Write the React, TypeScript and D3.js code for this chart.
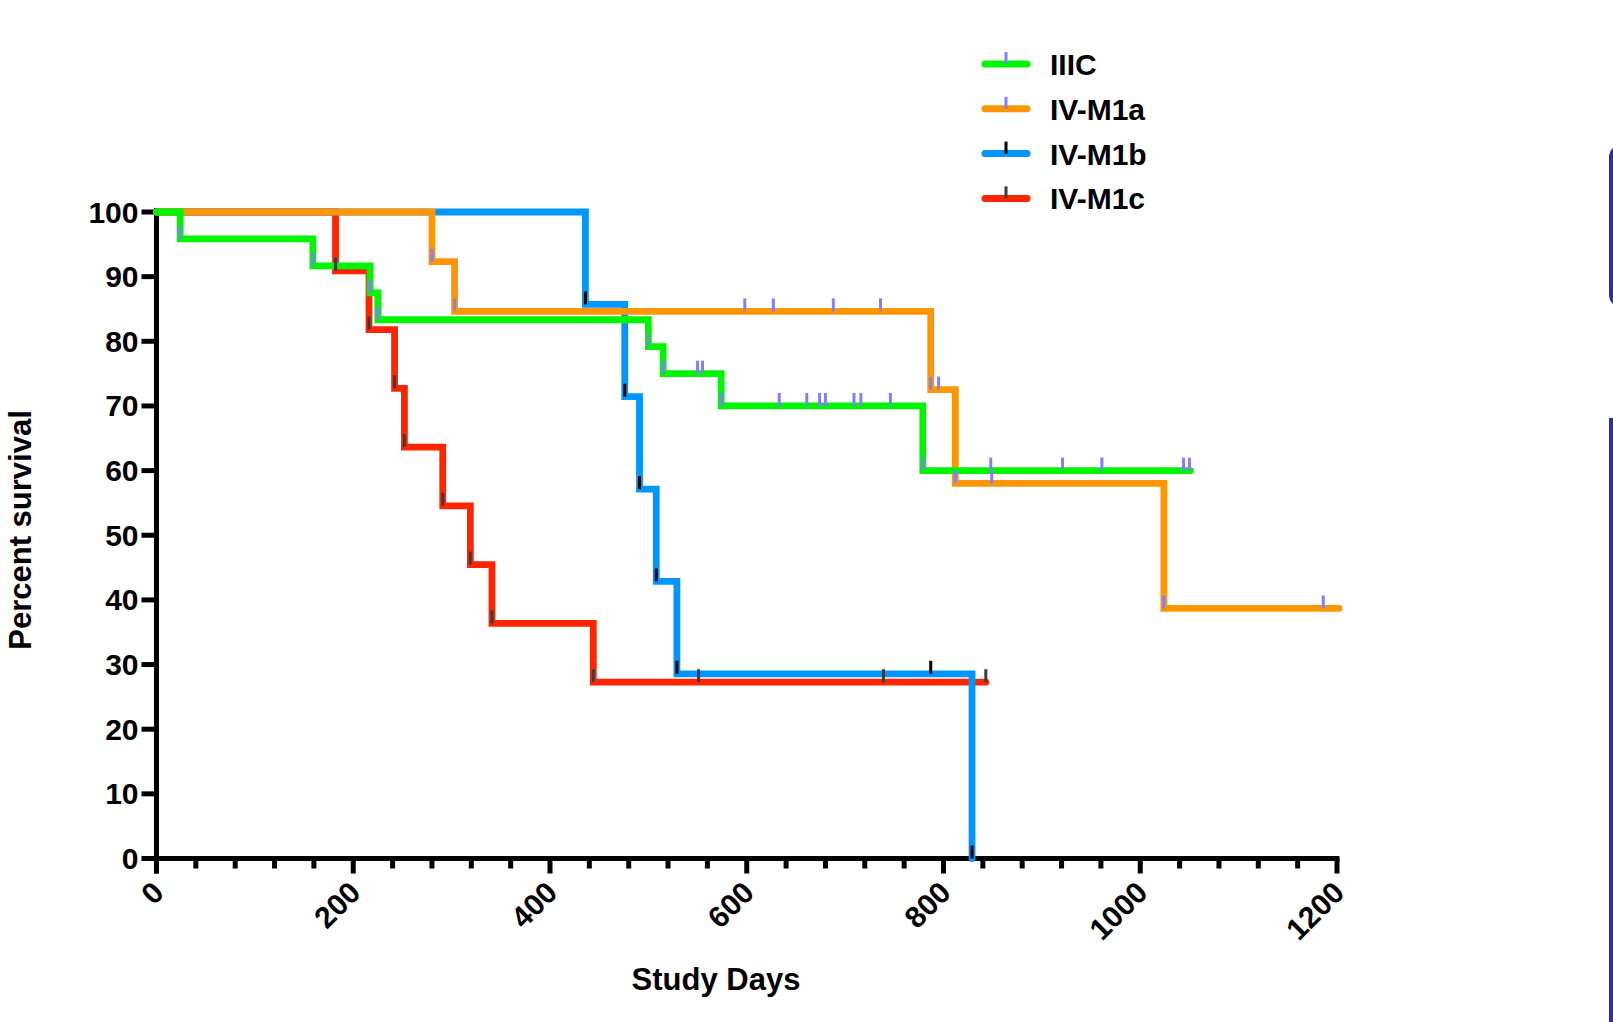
import { useEffect, useRef } from "react";
import * as d3 from "d3";

// Kaplan-Meier steps: day of each drop and the survival after it
const iiicDays = [0, 24, 159, 217, 225, 500, 515, 574, 779];
const iiicSurvival = [100, 95.83, 91.67, 87.5, 83.33, 79.17, 75.0, 70.0, 60.0];
const iiicLastDay = 1051;
const iiicCensored = [24, 159, 217, 225, 500, 515, 550, 555, 574, 633, 661, 674, 680, 709, 716, 746, 779, 848, 921, 961, 1044, 1050];

const m1aDays = [0, 280, 303, 787, 812, 1024];
const m1aSurvival = [100, 92.31, 84.62, 72.53, 58.02, 38.68];
const m1aLastDay = 1202;
const m1aCensored = [280, 303, 598, 627, 688, 736, 787, 795, 812, 849, 1024, 1186];

const m1bDays = [0, 436, 476, 491, 508, 529, 829];
const m1bSurvival = [100, 85.71, 71.43, 57.14, 42.86, 28.57, 0];
const m1bLastDay = 829;
const m1bCensored = [436, 476, 491, 508, 529, 787, 829];

const m1cDays = [0, 182, 216, 242, 252, 291, 319, 341, 444];
const m1cSurvival = [100, 90.91, 81.82, 72.73, 63.64, 54.55, 45.45, 36.36, 27.27];
const m1cLastDay = 843;
const m1cCensored = [182, 216, 242, 252, 291, 319, 341, 444, 551, 739, 843];

const groupNames = ["IIIC", "IV-M1a", "IV-M1b", "IV-M1c"];
const lineColors = ["#00f500", "#ff9600", "#0096ff", "#ff2500"];
const censorColors = ["#8080ff", "#8080ff", "#000000", "#3c3c3c"];

const yTickValues = [0, 10, 20, 30, 40, 50, 60, 70, 80, 90, 100];
const xMajorTicks = [0, 200, 400, 600, 800, 1000, 1200];
const xMinorTicks = [40, 80, 120, 160, 240, 280, 320, 360, 440, 480, 520, 560, 640, 680, 720, 760, 840, 880, 920, 960, 1040, 1080, 1120, 1160];

const FONT = "'Liberation Sans', Arial, Helvetica, sans-serif";

const App = () => {
  const chartRef = useRef(null);

  useEffect(() => {
    const svg = d3.select(chartRef.current);
    svg.selectAll("*").remove();

    const x = d3.scaleLinear().domain([0, 1200]).range([156.5, 1337]);
    const y = d3.scaleLinear().domain([0, 100]).range([858.5, 212]);

    const series = [
      { days: iiicDays, surv: iiicSurvival, last: iiicLastDay, cens: iiicCensored },
      { days: m1aDays, surv: m1aSurvival, last: m1aLastDay, cens: m1aCensored },
      { days: m1bDays, surv: m1bSurvival, last: m1bLastDay, cens: m1bCensored },
      { days: m1cDays, surv: m1cSurvival, last: m1cLastDay, cens: m1cCensored },
    ].map((s, i) => ({ ...s, name: groupNames[i], color: lineColors[i], tickColor: censorColors[i] }));

    // bleed of the slide frame on the right edge
    svg.append("rect").attr("x", 1609).attr("y", 145).attr("width", 40).attr("height", 162).attr("rx", 12).attr("fill", "#2e3192");
    svg.append("rect").attr("x", 1609).attr("y", 418).attr("width", 40).attr("height", 640).attr("fill", "#2e3192");

    // axes
    const axes = svg.append("g").attr("stroke", "#000").attr("stroke-width", 5);
    axes.append("line").attr("x1", x(0)).attr("x2", x(0)).attr("y1", y(100) - 4).attr("y2", y(0) + 15);
    axes.append("line").attr("x1", x(0)).attr("x2", x(1200) + 2.5).attr("y1", y(0)).attr("y2", y(0));
    axes.selectAll(".ytick").data(yTickValues).enter().append("line")
      .attr("x1", x(0) - 15).attr("x2", x(0)).attr("y1", (d) => y(d)).attr("y2", (d) => y(d));
    axes.selectAll(".xmajor").data(xMajorTicks).enter().append("line")
      .attr("x1", (d) => x(d)).attr("x2", (d) => x(d)).attr("y1", y(0)).attr("y2", y(0) + 15);
    axes.selectAll(".xminor").data(xMinorTicks).enter().append("line")
      .attr("x1", (d) => x(d)).attr("x2", (d) => x(d)).attr("y1", y(0)).attr("y2", y(0) + 10);

    svg.selectAll(".ylab").data(yTickValues).enter().append("text")
      .attr("x", x(0) - 18).attr("y", (d) => y(d) + 10.5)
      .attr("text-anchor", "end").style("font", `bold 30px ${FONT}`).text((d) => d);

    svg.selectAll(".xlab").data(xMajorTicks).enter().append("text")
      .attr("transform", (d) => `translate(${x(d) + 9},${y(0) + 36}) rotate(-45)`)
      .attr("text-anchor", "end").style("font", `bold 30px ${FONT}`).text((d) => d);

    svg.append("text").attr("x", 716).attr("y", 990).attr("text-anchor", "middle")
      .style("font", `bold 31px ${FONT}`).text("Study Days");
    svg.append("text").attr("transform", "translate(31,530) rotate(-90)").attr("text-anchor", "middle")
      .style("font", `bold 31px ${FONT}`).text("Percent survival");

    // survival curves, last group at the bottom
    const line = d3.line().x((d) => x(d[0])).y((d) => y(d[1])).curve(d3.curveStepAfter);
    [...series].reverse().forEach((s) => {
      const pts = s.days.map((d, i) => [d, s.surv[i]]);
      pts.push([s.last, s.surv[s.surv.length - 1]]);
      svg.append("path").attr("d", line(pts)).attr("fill", "none")
        .attr("stroke", s.color).attr("stroke-width", 6.8)
        .attr("stroke-linecap", "round").attr("stroke-linejoin", "miter");
    });

    // censor ticks
    [...series].reverse().forEach((s) => {
      svg.selectAll(null).data(s.cens).enter().append("line")
        .attr("x1", (d) => x(d)).attr("x2", (d) => x(d))
        .attr("y1", (d) => y(s.surv[d3.bisectRight(s.days, d) - 1]))
        .attr("y2", (d) => y(s.surv[d3.bisectRight(s.days, d) - 1]) - 13)
        .attr("stroke", s.tickColor).attr("stroke-width", 3);
    });

    // legend
    const legend = svg.append("g");
    series.forEach((s, i) => {
      const ly = 64 + i * 44.8;
      legend.append("line").attr("x1", 985).attr("x2", 1027).attr("y1", ly).attr("y2", ly)
        .attr("stroke", s.color).attr("stroke-width", 7).attr("stroke-linecap", "round");
      legend.append("line").attr("x1", 1006).attr("x2", 1006).attr("y1", ly).attr("y2", ly - 12)
        .attr("stroke", s.tickColor).attr("stroke-width", 3);
      legend.append("text").attr("x", 1050).attr("y", ly + 11)
        .style("font", `bold 30px ${FONT}`).text(s.name);
    });
  }, []);

  return (
    <svg ref={chartRef} width={1613} height={1022}
      style={{ position: "absolute", left: 0, top: 0, background: "#fff" }} />
  );
};

export default App;
